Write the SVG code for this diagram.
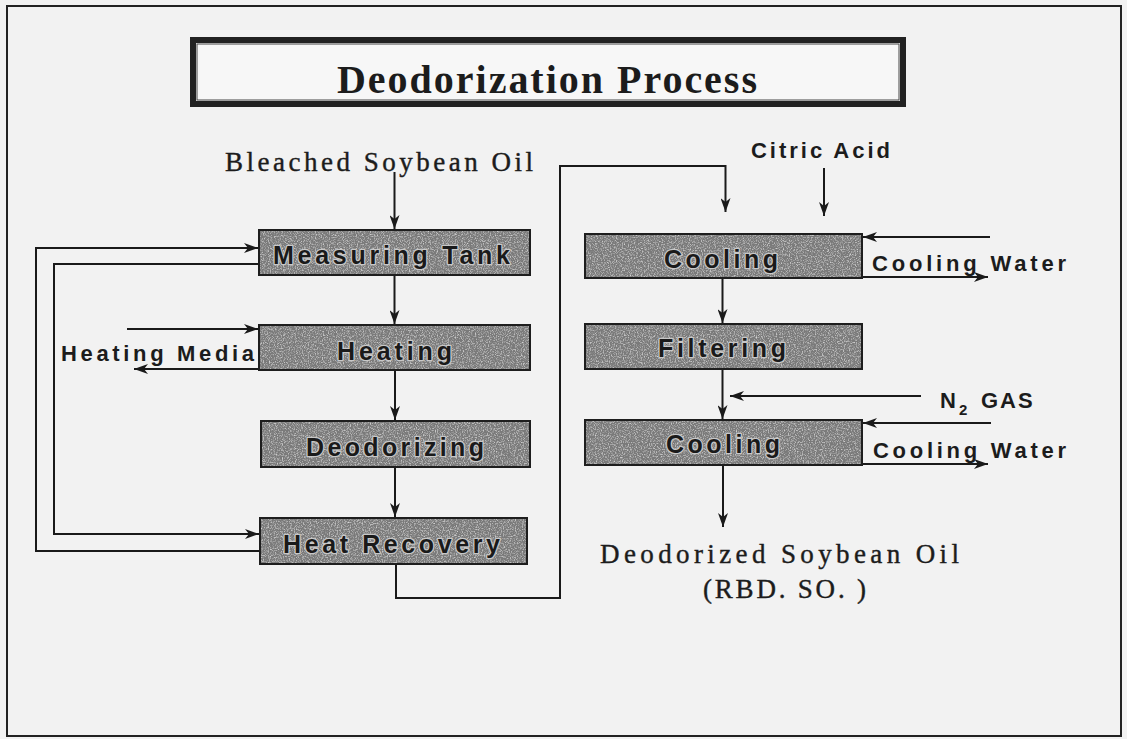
<svg xmlns="http://www.w3.org/2000/svg" width="1127" height="739" viewBox="0 0 1127 739">
<style>
.page{fill:#f2f2f2}
.frame{fill:none;stroke:#222;stroke-width:2}
.bfill{fill:#7a7a7a}
.bedge{fill:none;stroke:#1e1e1e;stroke-width:2}
.bt{font-family:"Liberation Sans",Arial,sans-serif;font-weight:bold;font-size:25px;fill:#1a1a1a;stroke:#c8c8c8;stroke-width:2.5;paint-order:stroke;stroke-linejoin:round}
.lbl{font-family:"Liberation Sans",Arial,sans-serif;font-weight:bold;font-size:22px;fill:#1c1c1c}
.ser{font-family:"Liberation Serif","Times New Roman",serif;font-size:27px;fill:#1c1c1c;stroke:#1c1c1c;stroke-width:0.4}
.ttl{font-family:"Liberation Serif","Times New Roman",serif;font-weight:bold;font-size:40px;fill:#1c1c1c}
.conn{fill:none;stroke:#1a1a1a;stroke-width:2}
</style>
<defs>
<marker id="ah" markerUnits="userSpaceOnUse" viewBox="0 0 14 10" refX="14" refY="5" markerWidth="14" markerHeight="10" orient="auto">
<path d="M0,0 L14,5 L0,10 L4,5 z" fill="#1a1a1a"/>
</marker>
<filter id="grain" x="0" y="0" width="1" height="1">
<feTurbulence type="fractalNoise" baseFrequency="0.85" numOctaves="2" seed="4" result="t"/>
<feColorMatrix in="t" type="matrix" values="0 0 0 0 0.9 0 0 0 0 0.9 0 0 0 0 0.9 1.6 0 0 0 -0.75" result="w"/>
<feComposite in="w" in2="SourceGraphic" operator="in" result="c"/>
<feMerge><feMergeNode in="SourceGraphic"/><feMergeNode in="c"/></feMerge>
</filter>
</defs>
<rect class="page" x="0" y="0" width="1127" height="739"/>
<rect class="frame" x="7" y="6" width="1114" height="730"/>

<g id="title">
<rect x="193" y="40" width="710" height="64" fill="#f7f7f7" stroke="#222" stroke-width="6"/>
<rect x="197" y="44" width="702" height="56" fill="none" stroke="#444" stroke-width="1"/>
<text class="ttl" x="337" y="93" textLength="420" lengthAdjust="spacing">Deodorization  Process</text>
</g>

<g id="connectors" class="conn">
<path d="M394.5,172 V229" marker-end="url(#ah)"/>
<path d="M394.5,275 V324" marker-end="url(#ah)"/>
<path d="M395,370 V420" marker-end="url(#ah)"/>
<path d="M395,467 V517" marker-end="url(#ah)"/>
<path d="M396,564 V598 H560 V166 H725.5 V212" marker-end="url(#ah)"/>
<path d="M824,168 V216" marker-end="url(#ah)"/>
<path d="M259,551 H36 V248 H258" marker-end="url(#ah)"/>
<path d="M259,264 H54 V534 H259" marker-end="url(#ah)"/>
<path d="M127,329 H258" marker-end="url(#ah)"/>
<path d="M259,369 H134" marker-end="url(#ah)"/>
<path d="M990,237 H863" marker-end="url(#ah)"/>
<path d="M862,277 H988" marker-end="url(#ah)"/>
<path d="M722.5,278 V323" marker-end="url(#ah)"/>
<path d="M722.5,369 V419" marker-end="url(#ah)"/>
<path d="M921,396 H730" marker-end="url(#ah)"/>
<path d="M991,423 H863" marker-end="url(#ah)"/>
<path d="M862,464 H988" marker-end="url(#ah)"/>
<path d="M723,465 V527" marker-end="url(#ah)"/>
</g>

<g id="measuring-tank">
<rect class="bfill" filter="url(#grain)" x="259" y="230" width="271" height="45"/>
<rect class="bedge" x="259" y="230" width="271" height="45"/>
<text class="bt" x="273" y="264" textLength="237" lengthAdjust="spacing">Measuring Tank</text>
</g>
<g id="heating">
<rect class="bfill" filter="url(#grain)" x="259" y="325" width="271" height="45"/>
<rect class="bedge" x="259" y="325" width="271" height="45"/>
<text class="bt" x="337" y="360" textLength="115" lengthAdjust="spacing">Heating</text>
</g>
<g id="deodorizing">
<rect class="bfill" filter="url(#grain)" x="261" y="421" width="269" height="46"/>
<rect class="bedge" x="261" y="421" width="269" height="46"/>
<text class="bt" x="306" y="456" textLength="178" lengthAdjust="spacing">Deodorizing</text>
</g>
<g id="heat-recovery">
<rect class="bfill" filter="url(#grain)" x="260" y="518" width="267" height="46"/>
<rect class="bedge" x="260" y="518" width="267" height="46"/>
<text class="bt" x="283" y="553" textLength="217" lengthAdjust="spacing">Heat Recovery</text>
</g>
<g id="cooling-1">
<rect class="bfill" filter="url(#grain)" x="585" y="234" width="277" height="44"/>
<rect class="bedge" x="585" y="234" width="277" height="44"/>
<text class="bt" x="664" y="268" textLength="114" lengthAdjust="spacing">Cooling</text>
</g>
<g id="filtering">
<rect class="bfill" filter="url(#grain)" x="585" y="324" width="277" height="45"/>
<rect class="bedge" x="585" y="324" width="277" height="45"/>
<text class="bt" x="658" y="357" textLength="128" lengthAdjust="spacing">Filtering</text>
</g>
<g id="cooling-2">
<rect class="bfill" filter="url(#grain)" x="585" y="420" width="277" height="45"/>
<rect class="bedge" x="585" y="420" width="277" height="45"/>
<text class="bt" x="666" y="453" textLength="114" lengthAdjust="spacing">Cooling</text>
</g>

<g id="bleached-oil"><text class="ser" x="225" y="171" textLength="308" lengthAdjust="spacing">Bleached Soybean  Oil</text></g>
<g id="citric-acid"><text class="lbl" x="751" y="158" textLength="139" lengthAdjust="spacing">Citric Acid</text></g>
<g id="heating-media"><text class="lbl" x="61" y="361" textLength="193" lengthAdjust="spacing">Heating Media</text></g>
<g id="cooling-water-1"><text class="lbl" x="872" y="271" textLength="194" lengthAdjust="spacing">Cooling Water</text></g>
<g id="n2-gas"><text class="lbl" x="940" y="408">N<tspan x="959" dy="7" font-size="15">2</tspan><tspan x="981" dy="-7" letter-spacing="2">GAS</tspan></text></g>
<g id="cooling-water-2"><text class="lbl" x="873" y="458" textLength="193" lengthAdjust="spacing">Cooling Water</text></g>
<g id="deodorized-oil">
<text class="ser" x="600" y="563" textLength="359" lengthAdjust="spacing">Deodorized Soybean  Oil</text>
<text class="ser" x="703" y="598" textLength="163" lengthAdjust="spacing">(RBD. SO. )</text>
</g>
</svg>
